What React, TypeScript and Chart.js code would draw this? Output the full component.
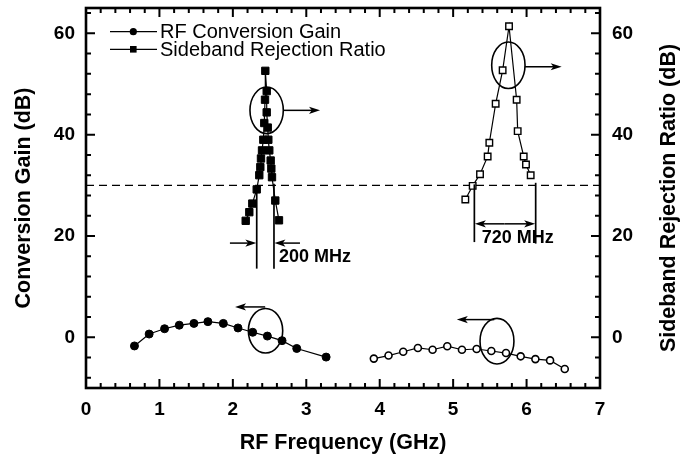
import React, { useEffect, useRef } from "react";
import { Chart, registerables } from "chart.js";
Chart.register(...registerables);

const FONT = '"Liberation Sans", Arial, Helvetica, sans-serif';

// Tick labels
const xTicks = [0, 1, 2, 3, 4, 5, 6, 7];
const yTicks = [0, 20, 40, 60];
const xMinorStep = 0.2;
const yMinorStep = 4;

// RF conversion gain, lower band (filled circles)
const gainLowFreq = [0.66, 0.86, 1.07, 1.27, 1.47, 1.66, 1.87, 2.07, 2.27, 2.47, 2.67, 2.87, 3.27];
const gainLowDb = [-1.7, 0.65, 1.7, 2.4, 2.75, 3.1, 2.75, 1.85, 1.0, 0.25, -0.65, -2.2, -3.9];
// RF conversion gain, upper band (open circles)
const gainHighFreq = [3.92, 4.12, 4.32, 4.52, 4.72, 4.92, 5.12, 5.32, 5.52, 5.72, 5.92, 6.12, 6.32, 6.52];
const gainHighDb = [-4.2, -3.6, -2.85, -2.1, -2.45, -1.75, -2.45, -2.3, -2.7, -3.1, -3.75, -4.3, -4.55, -6.25];
// Sideband rejection ratio, lower band (filled squares)
const srrLowFreq = [2.175, 2.224, 2.265, 2.325, 2.36, 2.374, 2.383, 2.397, 2.415, 2.428, 2.438, 2.442, 2.461, 2.461, 2.475, 2.483, 2.496, 2.515, 2.524, 2.533, 2.578, 2.628];
const srrLowDb = [23.0, 24.7, 26.4, 29.2, 32.0, 33.6, 35.3, 36.9, 39.0, 42.3, 46.9, 52.6, 48.6, 44.4, 41.4, 39.0, 36.9, 34.9, 33.3, 31.6, 27.0, 23.1];
// Sideband rejection ratio, upper band (open squares)
const srrHighFreq = [5.166, 5.266, 5.366, 5.47, 5.493, 5.579, 5.674, 5.761, 5.865, 5.879, 5.961, 5.992, 6.056];
const srrHighDb = [27.2, 29.9, 32.2, 35.7, 38.4, 46.1, 52.7, 61.4, 46.9, 40.7, 35.7, 34.1, 32.0];

const legendLabels = ["RF Conversion Gain", "Sideband Rejection Ratio"];
const thresholdDb = 30;

// Annotations in data units
const ellipses = [
  { cx: 2.46, cy: 44.8, rx: 0.227, ry: 4.6 },
  { cx: 2.445, cy: 1.3, rx: 0.234, ry: 4.4 },
  { cx: 5.752, cy: 53.7, rx: 0.227, ry: 4.6 },
  { cx: 5.597, cy: -0.75, rx: 0.231, ry: 4.5 },
];
const arrows = [
  { x1: 2.687, y1: 44.8, x2: 3.187, y2: 44.8 },
  { x1: 2.44, y1: 6.0, x2: 2.03, y2: 6.0 },
  { x1: 5.979, y1: 53.4, x2: 6.478, y2: 53.4 },
  { x1: 5.56, y1: 3.5, x2: 5.05, y2: 3.5 },
  { x1: 1.96, y1: 18.6, x2: 2.32, y2: 18.6 },
  { x1: 2.914, y1: 18.6, x2: 2.566, y2: 18.6 },
  { x1: 5.7, y1: 22.4, x2: 5.296, y2: 22.4 },
  { x1: 5.7, y1: 22.4, x2: 6.117, y2: 22.4 },
];
const vlines = [
  { x: 2.325, y1: 29.7, y2: 13.56 },
  { x: 2.56, y1: 30.3, y2: 13.56 },
  { x: 5.289, y1: 30.2, y2: 18.8 },
  { x: 6.124, y1: 30.5, y2: 18.5 },
];
const notes = [
  { text: "200 MHz", x: 2.628, y: 15.85 },
  { text: "720 MHz", x: 5.389, y: 19.6 },
];

const pts = (xs: number[], ys: number[]) => xs.map((x, i) => ({ x, y: ys[i] }));

function drawArrow(ctx: CanvasRenderingContext2D, x1: number, y1: number, x2: number, y2: number) {
  const head = 11, hw = 3.6;
  const a = Math.atan2(y2 - y1, x2 - x1);
  ctx.beginPath();
  ctx.moveTo(x1, y1);
  ctx.lineTo(x2 - head * 0.6 * Math.cos(a), y2 - head * 0.6 * Math.sin(a));
  ctx.stroke();
  ctx.beginPath();
  ctx.moveTo(x2, y2);
  ctx.lineTo(x2 - head * Math.cos(a) + hw * Math.sin(a), y2 - head * Math.sin(a) - hw * Math.cos(a));
  ctx.lineTo(x2 - head * 0.75 * Math.cos(a), y2 - head * 0.75 * Math.sin(a));
  ctx.lineTo(x2 - head * Math.cos(a) - hw * Math.sin(a), y2 - head * Math.sin(a) + hw * Math.cos(a));
  ctx.closePath();
  ctx.fill();
}

const overlay = {
  id: "overlay",
  beforeDatasetsDraw(chart: any) {
    const ctx = chart.ctx as CanvasRenderingContext2D;
    const xs = chart.scales.x, ys = chart.scales.y;
    ctx.save();
    ctx.strokeStyle = "#000";
    ctx.lineWidth = 1.3;
    ctx.setLineDash([8, 5]);
    const py = ys.getPixelForValue(thresholdDb);
    ctx.beginPath();
    ctx.moveTo(xs.getPixelForValue(xs.min), py);
    ctx.lineTo(xs.getPixelForValue(xs.max), py);
    ctx.stroke();
    ctx.restore();
  },
  afterDraw(chart: any) {
    const ctx = chart.ctx as CanvasRenderingContext2D;
    const xs = chart.scales.x, ys = chart.scales.y;
    const X = (v: number) => xs.getPixelForValue(v);
    const Y = (v: number) => ys.getPixelForValue(v);
    const { left, right, top, bottom } = chart.chartArea;
    ctx.save();
    ctx.strokeStyle = "#000";
    ctx.fillStyle = "#000";

    // ellipses
    ctx.lineWidth = 1.6;
    ellipses.forEach((e) => {
      const cx = X(e.cx), cy = Y(e.cy);
      const rx = Math.abs(X(e.cx + e.rx) - cx), ry = Math.abs(Y(e.cy + e.ry) - cy);
      ctx.beginPath();
      ctx.ellipse(cx, cy, rx, ry, 0, 0, Math.PI * 2);
      ctx.stroke();
    });
    // arrows
    ctx.lineWidth = 1.5;
    arrows.forEach((a) => drawArrow(ctx, X(a.x1), Y(a.y1), X(a.x2), Y(a.y2)));
    // vertical marker lines
    ctx.lineWidth = 1.7;
    vlines.forEach((l) => {
      ctx.beginPath();
      ctx.moveTo(X(l.x), Y(l.y1));
      ctx.lineTo(X(l.x), Y(l.y2));
      ctx.stroke();
    });
    // notes
    ctx.font = `bold 18px ${FONT}`;
    ctx.textAlign = "left";
    ctx.textBaseline = "middle";
    notes.forEach((n) => ctx.fillText(n.text, X(n.x), Y(n.y)));

    // frame
    ctx.lineWidth = 2.6;
    ctx.strokeRect(left, top, right - left, bottom - top);

    // ticks (inward)
    ctx.lineWidth = 2;
    const nx = Math.round((xs.max - xs.min) / xMinorStep);
    for (let i = 0; i <= nx; i++) {
      const v = xs.min + i * xMinorStep;
      const major = Math.abs(v - Math.round(v)) < 1e-6;
      const len = major ? 9 : 5;
      const px = X(v);
      ctx.beginPath();
      ctx.moveTo(px, bottom); ctx.lineTo(px, bottom - len);
      ctx.moveTo(px, top); ctx.lineTo(px, top + len);
      ctx.stroke();
    }
    for (let v = -8; v <= ys.max; v += yMinorStep) {
      const major = v % 20 === 0;
      const len = major ? 9 : 5;
      const py = Y(v);
      ctx.beginPath();
      ctx.moveTo(left, py); ctx.lineTo(left + len, py);
      ctx.moveTo(right, py); ctx.lineTo(right - len, py);
      ctx.stroke();
    }

    // axis titles
    ctx.font = `bold 21.5px ${FONT}`;
    ctx.textAlign = "center";
    ctx.textBaseline = "middle";
    ctx.fillText("RF Frequency (GHz)", (left + right) / 2, 443);
    const midY = (top + bottom) / 2;
    ctx.save();
    ctx.translate(24, midY);
    ctx.rotate(-Math.PI / 2);
    ctx.fillText("Conversion Gain (dB)", 0, 0);
    ctx.restore();
    ctx.save();
    ctx.translate(669, midY);
    ctx.rotate(-Math.PI / 2);
    ctx.fillText("Sideband Rejection Ratio (dB)", 0, 0);
    ctx.restore();

    // legend
    ctx.font = `20px ${FONT}`;
    ctx.textAlign = "left";
    const rows = [31.7, 49.3];
    ctx.lineWidth = 1.2;
    rows.forEach((ry, i) => {
      ctx.beginPath();
      ctx.moveTo(110, ry); ctx.lineTo(157, ry);
      ctx.stroke();
      if (i === 0) {
        ctx.beginPath(); ctx.arc(133.3, ry, 3.6, 0, Math.PI * 2); ctx.fill();
      } else {
        ctx.fillRect(130, ry - 3.3, 6.6, 6.6);
      }
      ctx.fillText(legendLabels[i], 160, ry + 1);
    });
    ctx.restore();
  },
};

export default function App() {
  const ref = useRef<HTMLCanvasElement | null>(null);
  useEffect(() => {
    if (!ref.current) return;
    const tickFont = { family: FONT, size: 19, weight: "bold" as const };
    const yScale = (pos: "left" | "right", w: number) => ({
      type: "linear" as const,
      min: -10,
      max: 65,
      position: pos,
      grid: { display: false, drawTicks: false },
      border: { display: false },
      ticks: { font: tickFont, color: "#000", padding: pos === "left" ? 11 : 12, autoSkip: false },
      afterBuildTicks: (s: any) => { s.ticks = yTicks.map((v) => ({ value: v })); },
      afterFit: (s: any) => { s.width = w; s.paddingTop = 0; s.paddingBottom = 0; },
    });
    const chart = new Chart(ref.current, {
      type: "line",
      data: {
        datasets: [
          {
            label: legendLabels[0],
            data: pts(gainLowFreq, gainLowDb),
            yAxisID: "y",
            borderColor: "#000", borderWidth: 1.2,
            pointStyle: "circle", pointRadius: 4, pointBackgroundColor: "#000", pointBorderColor: "#000", pointBorderWidth: 1,
          },
          {
            label: "gain-high",
            data: pts(gainHighFreq, gainHighDb),
            yAxisID: "y",
            borderColor: "#000", borderWidth: 1.2,
            pointStyle: "circle", pointRadius: 3.5, pointBackgroundColor: "#fff", pointBorderColor: "#000", pointBorderWidth: 1.6,
          },
          {
            label: legendLabels[1],
            data: pts(srrLowFreq, srrLowDb),
            yAxisID: "y2",
            borderColor: "#000", borderWidth: 1.2,
            pointStyle: "rect", pointRadius: 5.2, pointBackgroundColor: "#000", pointBorderColor: "#000", pointBorderWidth: 1,
          },
          {
            label: "srr-high",
            data: pts(srrHighFreq, srrHighDb),
            yAxisID: "y2",
            borderColor: "#000", borderWidth: 1.2,
            pointStyle: "rect", pointRadius: 4.6, pointBackgroundColor: "#fff", pointBorderColor: "#000", pointBorderWidth: 1.4,
          },
        ],
      },
      options: {
        responsive: false,
        animation: false,
        devicePixelRatio: 1,
        layout: { padding: { top: 8, left: 0, right: 0, bottom: 0 } },
        plugins: { legend: { display: false }, tooltip: { enabled: false } },
        elements: { line: { tension: 0 } },
        scales: {
          x: {
            type: "linear",
            min: 0,
            max: 7,
            position: "bottom",
            grid: { display: false, drawTicks: false },
            border: { display: false },
            ticks: { font: tickFont, color: "#000", padding: 10, maxRotation: 0, autoSkip: false },
            afterBuildTicks: (s: any) => { s.ticks = xTicks.map((v) => ({ value: v })); },
            afterFit: (s: any) => { s.height = 67; s.paddingLeft = 0; s.paddingRight = 0; },
          },
          y: yScale("left", 86),
          y2: yScale("right", 84),
        },
      },
      plugins: [overlay],
    });
    return () => chart.destroy();
  }, []);
  return (
    <div style={{ position: "absolute", left: 0, top: 0, width: 684, height: 455, background: "#fff" }}>
      <canvas ref={ref} width={684} height={455} style={{ display: "block" }} />
    </div>
  );
}
